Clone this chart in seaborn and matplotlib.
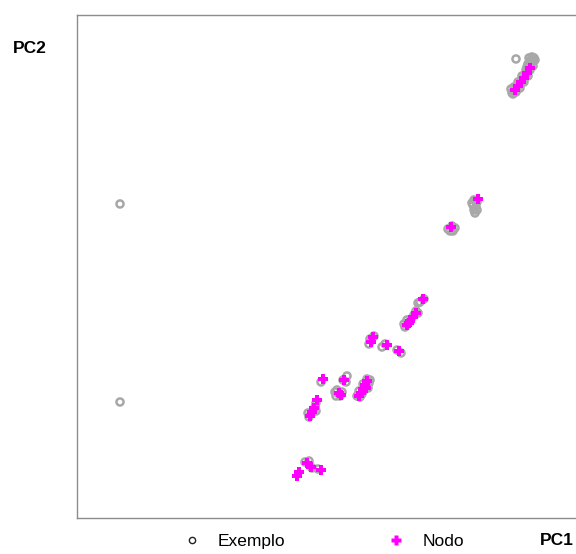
import matplotlib
matplotlib.use("Agg")
import matplotlib.pyplot as plt
from matplotlib.lines import Line2D
import seaborn as sns
import pandas as pd

# PCA scores
exemplo_pc1 = [-18.0, -18.0, 21.6,
               22.9, 23.2, 23.4, 23.0, 23.3, 22.8, 23.1, 22.7, 23.0, 22.7, 22.5, 22.3,
               22.1, 21.9, 21.7, 21.4, 21.2, 21.6, 22.0, 22.4, 22.8, 21.1,
               23.3, 23.5, 22.6, 22.2, 21.8, 21.4, 21.3,
               17.4, 17.7, 17.3, 17.6, 17.4, 17.5, 17.2, 17.7,
               14.8, 15.2, 15.5, 15.0, 15.3,
               12.0, 12.4, 11.8,
               10.5, 10.8, 11.1, 11.4, 11.6, 10.4, 10.7, 11.8,
               6.9, 7.4, 7.0,
               8.2, 8.5,
               9.7, 10.1,
               2.1,
               4.7, 4.3, 4.6,
               3.5, 3.7, 4.0, 4.2, 3.6,
               6.7, 6.9, 6.6, 6.4, 6.2, 6.0, 5.7, 7.0, 6.3, 5.9, 6.8,
               1.6,
               1.5, 1.3, 1.1, 0.9, 0.8, 1.6,
               0.5, 0.9, 1.2, 1.8]
exemplo_pc2 = [9.6, -10.2, 24.1,
               24.2, 24.3, 24.2, 23.9, 23.9, 23.6, 23.6, 23.3, 23.0, 22.7, 22.4, 22.1,
               21.8, 21.5, 21.2, 20.9, 20.7, 20.8, 21.2, 21.8, 22.4, 21.1,
               23.4, 24.0, 23.0, 22.4, 21.8, 21.3, 20.6,
               10.0, 9.8, 9.5, 9.3, 9.0, 8.7, 9.7, 9.0,
               7.1, 7.4, 7.2, 6.9, 6.9,
               -0.2, 0.1, -0.3,
               -2.7, -2.3, -1.9, -1.5, -1.1, -2.4, -2.0, -1.3,
               -4.4, -3.6, -3.9,
               -4.7, -4.4,
               -5.0, -5.3,
               -8.2,
               -7.6, -8.0, -8.2,
               -9.2, -9.0, -9.6, -9.2, -9.6,
               -7.9, -8.3, -8.6, -9.0, -9.4, -9.7, -9.6, -8.0, -8.4, -9.1, -8.8,
               -10.3,
               -10.7, -11.1, -11.4, -11.7, -11.3, -11.1,
               -16.2, -16.1, -16.8, -16.9]

nodo_pc1 = [23.0, 22.7, 22.4, 22.1, 21.8, 21.5,
            17.8, 15.1, 12.3,
            10.7, 11.0, 11.3, 11.6, 10.9,
            7.1, 7.3, 8.7, 9.9,
            2.3, 4.4, 3.9, 4.1,
            6.7, 6.5, 6.3, 6.1, 5.9, 6.6,
            1.7, 1.4, 1.2, 1.0,
            -0.1, -0.3, 0.7, 1.1, 2.1]
nodo_pc2 = [23.2, 22.7, 22.2, 21.8, 21.4, 21.0,
            10.1, 7.3, 0.1,
            -2.5, -2.1, -1.7, -1.3, -2.3,
            -4.2, -3.7, -4.5, -5.1,
            -7.9, -8.0, -9.3, -9.5,
            -8.1, -8.5, -8.9, -9.3, -9.6, -8.8,
            -10.0, -10.8, -11.2, -11.6,
            -17.2, -17.6, -16.3, -16.7, -17.0]

exemplos = pd.DataFrame({"PC1": exemplo_pc1, "PC2": exemplo_pc2})
nodos = pd.DataFrame({"PC1": nodo_pc1, "PC2": nodo_pc2})

sns.set_style("white")
plt.rcParams["font.family"] = ["Liberation Sans", "DejaVu Sans"]
plt.rcParams["text.color"] = "black"

fig = plt.figure(figsize=(5.76, 5.54), dpi=100)
ax = fig.add_axes([0.1337, 0.065, 0.8906, 0.908])

sns.scatterplot(data=exemplos, x="PC1", y="PC2", ax=ax, marker="o", s=26,
                facecolors="none", edgecolors="#a8a8a8", linewidth=1.8)
sns.scatterplot(data=nodos, x="PC1", y="PC2", ax=ax, marker="P", s=60,
                color="#ff00ff", edgecolor="none", linewidth=0)

ax.set_xlim(-22.3, 29.0)
ax.set_ylim(-21.8, 28.5)
ax.set_xticks([])
ax.set_yticks([])
ax.set_xlabel("")
ax.set_ylabel("")
for sp in ax.spines.values():
    sp.set_color("#8c8c8c")
    sp.set_linewidth(1.0)

fig.text(0.023, 0.913, "PC2", fontsize=12.5, fontweight="bold", va="center")
fig.text(0.938, 0.025, "PC1", fontsize=12.5, fontweight="bold", va="center")

handles = [
    Line2D([], [], linestyle="none", marker="o", markersize=4.5,
           markerfacecolor="none", markeredgecolor="#222222", markeredgewidth=1.0),
    Line2D([], [], linestyle="none", marker="P", markersize=6.5,
           markerfacecolor="#ff00ff", markeredgecolor="none"),
]
fig.legend(handles, ["Exemplo", "Nodo"], loc="center left", ncol=2,
           bbox_to_anchor=(0.310, 0.022), frameon=False, fontsize=12.5,
           handlelength=1.5, handletextpad=0.75, columnspacing=5.65,
           borderaxespad=0, borderpad=0)

fig.savefig("out.png", dpi=100)
